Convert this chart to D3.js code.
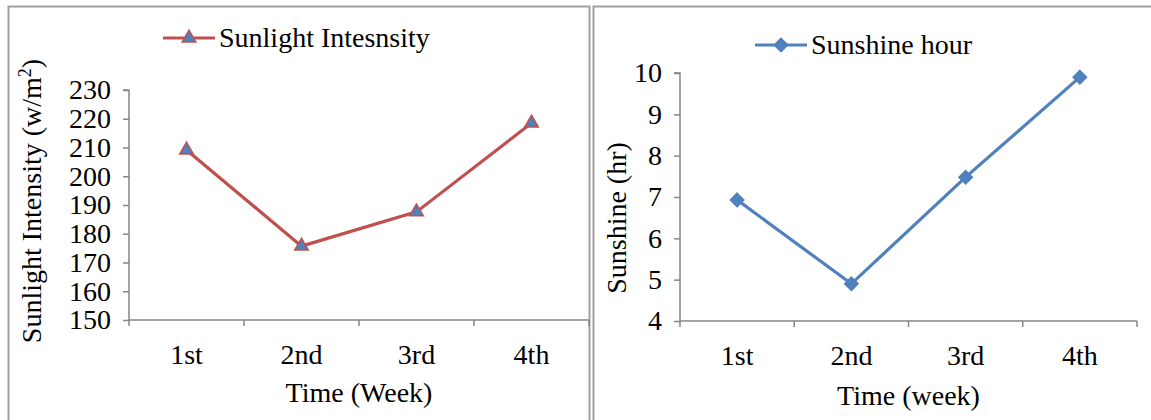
<!DOCTYPE html>
<html>
<head>
<meta charset="utf-8">
<script src="https://cdn.jsdelivr.net/npm/d3@7"></script>
<style>
  body { margin: 0; background: #fff; }
  svg text { font-family: "Liberation Serif", "Times New Roman", serif !important; fill: #000; }
</style>
</head>
<body>
<svg id="chart" width="1151" height="420"></svg>
<script>
// Weekly measurements
const weeks = ["1st", "2nd", "3rd", "4th"];
const intensityValues = [209.1, 175.7, 187.6, 218.5];
const sunshineValues = [6.93, 4.9, 7.48, 9.9];
const intensityTicks = [150, 160, 170, 180, 190, 200, 210, 220, 230];
const sunshineTicks = [4, 5, 6, 7, 8, 9, 10];

const svg = d3.select("#chart");
const axisColor = "#868686";
const frameColor = "#a0a0a0";
const fontSize = 28;

// Panel frames
svg.append("rect").attr("x", 8.5).attr("y", 6.5).attr("width", 581).attr("height", 430)
  .attr("fill", "none").attr("stroke", frameColor).attr("stroke-width", 2);
svg.append("rect").attr("x", 593.5).attr("y", 6.5).attr("width", 570).attr("height", 430)
  .attr("fill", "none").attr("stroke", frameColor).attr("stroke-width", 2);

// Rotated-square marker used for the sunshine series
const diamond = {
  draw(ctx, size) {
    const r = Math.sqrt(size / 2);
    ctx.moveTo(0, -r); ctx.lineTo(r, 0); ctx.lineTo(0, r); ctx.lineTo(-r, 0); ctx.closePath();
  }
};

function panel(cfg) {
  const g = svg.append("g");
  const x = d3.scaleBand().domain(weeks).range([cfg.x0, cfg.x1]);
  const y = d3.scaleLinear().domain(cfg.domain).range([cfg.yBottom, cfg.yTop]);

  // Y axis
  const ya = g.append("g").attr("transform", `translate(${cfg.x0},0)`)
    .call(d3.axisLeft(y).tickValues(cfg.ticks).tickSize(6).tickPadding(12).tickFormat(d3.format("d")));
  ya.attr("font-family", null).attr("font-size", fontSize);
  ya.selectAll("path,line").attr("stroke", axisColor).attr("stroke-width", 1.5);
  ya.select(".domain").attr("d", `M-6,${cfg.yTop}H0V${cfg.yBottom}`);
  ya.selectAll("text").attr("fill", "#000");

  // X axis with ticks at category boundaries
  const xa = g.append("g").attr("transform", `translate(0,${cfg.yBottom})`)
    .call(d3.axisBottom(x).tickSize(0).tickPadding(24));
  xa.attr("font-family", null).attr("font-size", fontSize);
  xa.select(".domain").attr("stroke", axisColor).attr("stroke-width", 1.5)
    .attr("d", `M${cfg.x0},0H${cfg.x1}`);
  xa.selectAll("text").attr("fill", "#000");
  const bounds = weeks.map(w => x(w)).concat([x(weeks[weeks.length - 1]) + x.bandwidth()]);
  xa.selectAll(".bnd").data(bounds).enter().append("line")
    .attr("x1", d => d).attr("x2", d => d).attr("y1", 0).attr("y2", 6)
    .attr("stroke", axisColor).attr("stroke-width", 1.5);

  // Series line
  const cx = d => x(d) + x.bandwidth() / 2;
  const line = d3.line().x((d, i) => cx(weeks[i])).y(d => y(d));
  g.append("path").datum(cfg.values).attr("d", line)
    .attr("fill", "none").attr("stroke", cfg.color).attr("stroke-width", 3.2);

  // Markers
  const sym = d3.symbol().type(cfg.symbol).size(cfg.symbolSize);
  g.selectAll(".mk").data(cfg.values).enter().append("path")
    .attr("d", sym)
    .attr("transform", (d, i) => `translate(${cx(weeks[i])},${y(d)})`)
    .attr("fill", "#4F81BD").attr("stroke", cfg.markerStroke).attr("stroke-width", 1.5);

  // Legend
  const lg = g.append("g").attr("transform", `translate(${cfg.legendX},${cfg.legendY})`);
  lg.append("line").attr("x1", 0).attr("x2", 52).attr("y1", 0).attr("y2", 0)
    .attr("stroke", cfg.color).attr("stroke-width", 3.2);
  lg.append("path").attr("d", sym).attr("transform", "translate(26,0)")
    .attr("fill", "#4F81BD").attr("stroke", cfg.markerStroke).attr("stroke-width", 1.5);
  lg.append("text").attr("x", 56).attr("y", 9).attr("font-size", fontSize).text(cfg.legend);

  // Axis titles
  g.append("text").attr("x", (cfg.x0 + cfg.x1) / 2).attr("y", cfg.xTitleY)
    .attr("text-anchor", "middle").attr("font-size", fontSize).text(cfg.xTitle);
  const yt = g.append("text")
    .attr("transform", `translate(${cfg.yTitleX},${cfg.yTitleY}) rotate(-90)`)
    .attr("text-anchor", "middle").attr("font-size", fontSize);
  cfg.yTitle(yt);
}

panel({
  x0: 129, x1: 589, yTop: 90, yBottom: 320,
  domain: [150, 230], ticks: intensityTicks, values: intensityValues,
  color: "#C0504D", symbol: d3.symbolTriangle, symbolSize: 80, markerStroke: "#C0504D",
  legendX: 163, legendY: 38, legend: "Sunlight Intesnsity",
  xTitle: "Time (Week)", xTitleY: 402,
  yTitleX: 41, yTitleY: 201,
  yTitle: t => {
    t.append("tspan").text("Sunlight Intensity (w/m");
    t.append("tspan").attr("font-size", 18).attr("dy", -10).text("2");
    t.append("tspan").attr("dy", 10).text(")");
  }
});

panel({
  x0: 680, x1: 1137, yTop: 73, yBottom: 321,
  domain: [4, 10], ticks: sunshineTicks, values: sunshineValues,
  color: "#4F81BD", symbol: diamond, symbolSize: 90, markerStroke: "#4F81BD",
  legendX: 755, legendY: 45, legend: "Sunshine hour",
  xTitle: "Time (week)", xTitleY: 405,
  yTitleX: 626, yTitleY: 218,
  yTitle: t => t.text("Sunshine (hr)")
});
</script>
</body>
</html>
